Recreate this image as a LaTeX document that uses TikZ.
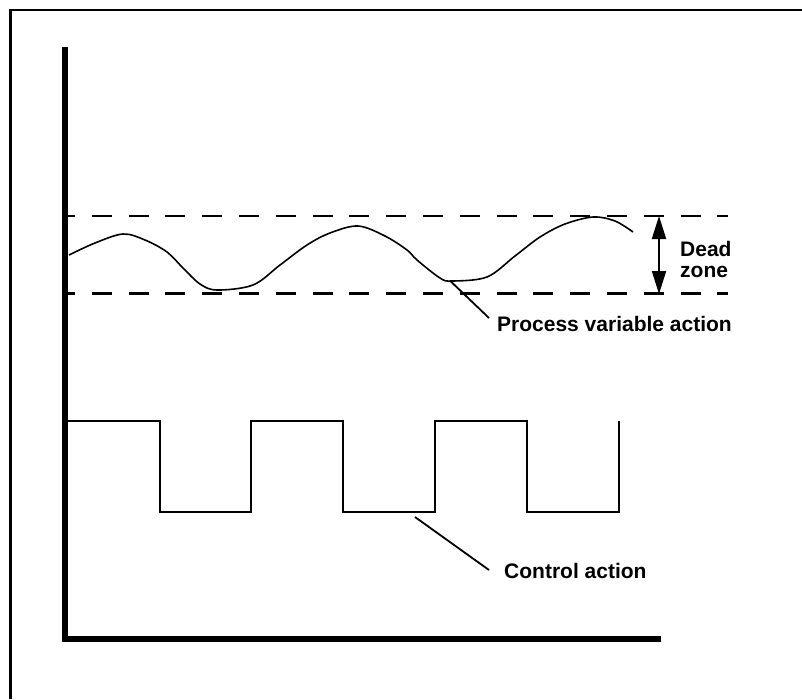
\documentclass[tikz,border=0pt]{standalone}
\usepackage{fontspec}
\setmainfont{Liberation Sans}
\usetikzlibrary{arrows.meta}
\begin{document}
\begin{tikzpicture}[x=1pt,y=-1pt,
  lbl/.style={font=\fontsize{21}{25}\selectfont\bfseries, inner sep=0pt},
  frameline/.style={line width=2.5pt},
  axisline/.style={line width=6pt, line join=miter},
  dzline/.style={line width=2.6pt, dash pattern=on 20pt off 16.8pt, dash phase=13.1pt},
  wave/.style={line width=1.8pt},
  pvcurve/.style={line width=1.6pt},
  leader/.style={line width=1.8pt},
  dzarrow/.style={line width=2pt, {Triangle[length=23pt,width=14pt]}-{Triangle[length=23pt,width=14pt]}}
]
\useasboundingbox (0,0) rectangle (802,699);
\fill[white] (0,0) rectangle (802,699);
% frame (only top and left visible)
\draw[frameline] (10.5,699) -- (10.5,9.8) -- (802,9.8);
% dead zone limits
\draw[dzline] (68,216) -- (728,216);
\draw[dzline] (68,293.5) -- (728,293.5);
% axes
\draw[axisline] (64.7,46.7) -- (64.7,639) -- (660.7,639);
% process variable curve
\draw[pvcurve] plot[smooth, tension=0.55] coordinates {
 (69,255) (95,243) (123,234) (145,240) (167,252) (183,268) (200,284) (217,290)
 (253,285) (280,265) (307,245) (330,233) (358,226) (385,236) (407,250) (417,260)
 (440,278) (452,281) (487,277) (515,256) (540,237) (565,224) (593,217) (615,221) (633,232)};
% control action square wave
\draw[wave] (68,421) -- (160,421) -- (160,512) -- (251,512) -- (251,421) -- (343,421)
  -- (343,512) -- (435,512) -- (435,421) -- (527,421) -- (527,512) -- (619,512) -- (619,421);
% dead zone arrow
\coordinate (dztop) at (659,216);
\coordinate (dzbot) at (659,294);
\draw[dzarrow] (dztop) -- (dzbot);
% labels
\node[lbl, anchor=base west] (dead) at (680,256.7) {Dead};
\node[lbl, anchor=base west] (zone) at (680,277.5) {zone};
\node[lbl, anchor=base west] (pva) at (497,331) {Process variable action};
\node[lbl, anchor=base west] (ca) at (504,578) {Control action};
% leaders
\coordinate (pvpt) at (450,280.7);
\coordinate (pvend) at (489,318);
\draw[leader] (pvpt) -- (pvend);
\coordinate (capt) at (415,517);
\coordinate (caend) at (489,570);
\draw[leader] (capt) -- (caend);
\end{tikzpicture}
\end{document}
